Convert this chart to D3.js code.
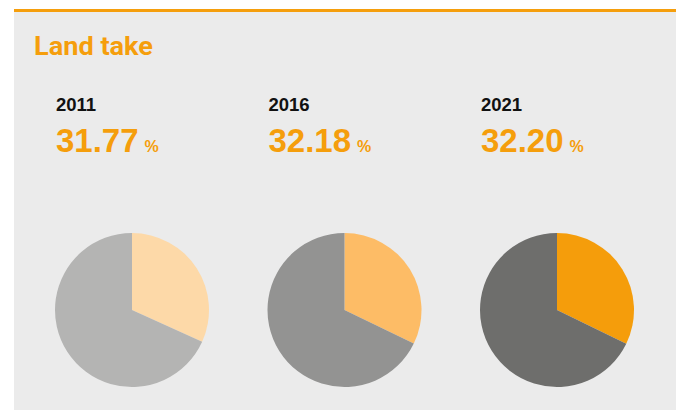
<!DOCTYPE html>
<html><head><meta charset="utf-8">
<script src="https://cdn.jsdelivr.net/npm/d3@7"></script>
<style>html,body{margin:0;padding:0;background:#fff;}svg{display:block;}</style>
</head><body>
<svg id="chart" width="678" height="410"></svg>
<script>
const title = "Land take";
const years = ["2011", "2016", "2021"];
const values = [31.77, 32.18, 32.20];
const sliceColors = ["#fdd9a8", "#fdbc66", "#f59d0b"];
const restColors = ["#b4b4b3", "#939392", "#6e6e6c"];

const W = 678, H = 410;
const svg = d3.select("#chart");
const orange = "#f59e0c";

svg.append("rect").attr("x", 14).attr("y", 11).attr("width", 662).attr("height", H - 11).attr("fill", "#ebebeb");
svg.append("rect").attr("x", 14).attr("y", 9).attr("width", 662).attr("height", 3).attr("fill", orange);

svg.append("text").attr("x", 34).attr("y", 55)
  .attr("font-family", "'Liberation Sans Narrow', 'Roboto', sans-serif")
  .attr("font-weight", "bold").attr("font-size", 26).attr("fill", orange)
  .attr("textLength", 119).attr("lengthAdjust", "spacingAndGlyphs")
  .text(title);

const x = d3.scalePoint().domain(years).range([132, 557]);
const cy = 310, r = 77;
const pie = d3.pie().sort(null).value(d => d);
const arc = d3.arc().innerRadius(0).outerRadius(r);

years.forEach((yr, i) => {
  const cx = x(yr);
  const g = svg.append("g");
  g.append("text").attr("x", cx - 76).attr("y", 111)
    .attr("font-family", "'Liberation Sans', Arial, sans-serif").attr("font-weight", "bold")
    .attr("font-size", 18.5).attr("fill", "#111").text(yr);
  const t = g.append("text").attr("x", cx - 76).attr("y", 151.5)
    .attr("font-family", "'Liberation Sans', Arial, sans-serif").attr("font-weight", "bold")
    .attr("fill", orange);
  t.append("tspan").attr("font-size", 33).text(values[i].toFixed(2));
  t.append("tspan").attr("font-size", 16).attr("dx", 6).text("%");

  const pg = svg.append("g").attr("transform", `translate(${cx},${cy})`);
  const arcs = pie([values[i], 100 - values[i]]);
  pg.selectAll("path").data(arcs).join("path")
    .attr("d", arc)
    .attr("fill", (d, j) => j === 0 ? sliceColors[i] : restColors[i]);
});
</script>
</body></html>
